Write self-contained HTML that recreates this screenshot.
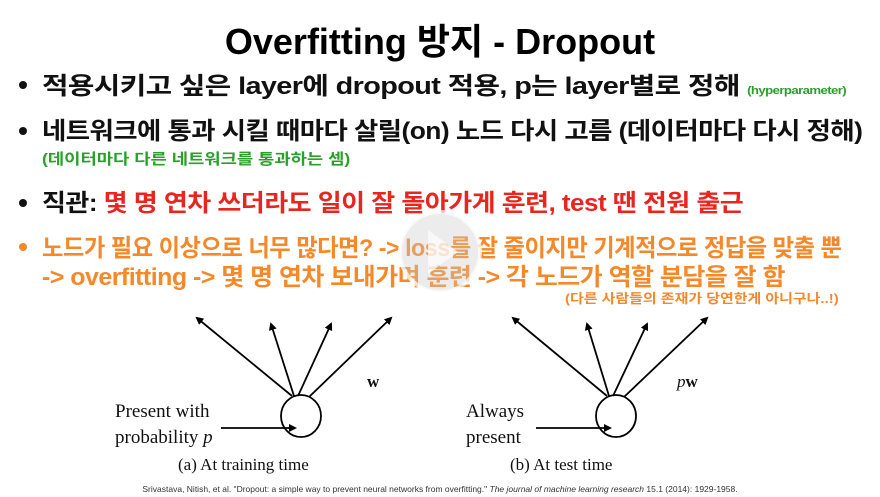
<!DOCTYPE html>
<html><head><meta charset="utf-8"><style>
body{margin:0;width:880px;height:497px;background:#fff;position:relative;overflow:hidden;font-family:"Liberation Sans","Noto Sans CJK KR",sans-serif}
.t{position:absolute;white-space:nowrap;font-weight:bold;transform-origin:0 0}
.b{font-size:24px;color:#111;letter-spacing:-0.5px}
.dot{position:absolute;width:8px;height:8px;border-radius:50%;}
.serif{position:absolute;font-family:"Liberation Serif",serif;font-size:19px;color:#111;white-space:nowrap}
</style></head><body>
<div class="t" style="left:0;width:880px;text-align:center;top:13px;font-size:36px;color:#000">Overfitting 방지 - Dropout</div>

<div class="dot" style="left:19px;top:81px;background:#111"></div>
<div class="t b" style="left:42px;top:66px;transform:scaleX(1.2)">적용시키고 싶은 layer에 dropout 적용, p는 layer별로 정해 <span style="font-size:11px;color:#2aa02a">(hyperparameter)</span></div>

<div class="dot" style="left:19px;top:127px;background:#111"></div>
<div class="t b" style="left:42px;top:111px;transform:scaleX(1.1)">네트워크에 통과 시킬 때마다 살릴(on) 노드 다시 고름 (데이터마다 다시 정해)</div>
<div class="t" style="left:42px;top:148px;font-size:15px;color:#2aa02a;transform:scaleX(1.18)">(데이터마다 다른 네트워크를 통과하는 셈)</div>

<div class="dot" style="left:19px;top:199px;background:#111"></div>
<div class="t b" style="left:42px;top:183px;transform:scaleX(1.085)">직관: <span style="color:#e8251f">몇 명 연차 쓰더라도 일이 잘 돌아가게 훈련, test 땐 전원 출근</span></div>

<div class="dot" style="left:19px;top:243px;background:#f5892a"></div>
<div class="t b" style="left:42px;top:228px;color:#f5892a;transform:scaleX(0.97)">노드가 필요 이상으로 너무 많다면? -&gt; loss를 잘 줄이지만 기계적으로 정답을 맞출 뿐</div>
<div class="t b" style="left:42px;top:257px;color:#f5892a;transform:scaleX(1.04)">-&gt; overfitting -&gt; 몇 명 연차 보내가며 훈련 -&gt; 각 노드가 역할 분담을 잘 함</div>
<div class="t" style="left:565px;top:288px;font-size:13px;color:#f5892a;transform:scaleX(1.15)">(다른 사람들의 존재가 당연한게 아니구나..!)</div>

<svg width="880" height="497" style="position:absolute;left:0;top:0">
<defs><marker id="a" markerWidth="8" markerHeight="8" refX="6" refY="4" orient="auto" markerUnits="userSpaceOnUse"><path d="M0,0 L8,4 L0,8 Z" fill="#000"/></marker></defs>
<g stroke="#000" stroke-width="1.8" fill="none">
<ellipse cx="301" cy="416" rx="20" ry="21"/>
<line x1="292" y1="396" x2="197" y2="318" marker-end="url(#a)"/>
<line x1="294" y1="396" x2="271" y2="324" marker-end="url(#a)"/>
<line x1="298" y1="396" x2="331" y2="324" marker-end="url(#a)"/>
<line x1="309" y1="397" x2="391" y2="318" marker-end="url(#a)"/>
<line x1="221" y1="428" x2="295" y2="428" marker-end="url(#a)"/>
<ellipse cx="616" cy="416" rx="20" ry="21"/>
<line x1="607" y1="396" x2="513" y2="318" marker-end="url(#a)"/>
<line x1="609" y1="396" x2="587" y2="324" marker-end="url(#a)"/>
<line x1="613" y1="396" x2="647" y2="324" marker-end="url(#a)"/>
<line x1="624" y1="397" x2="707" y2="318" marker-end="url(#a)"/>
<line x1="536" y1="428" x2="610" y2="428" marker-end="url(#a)"/>
</g>
<circle cx="440" cy="252" r="40" fill="rgba(200,200,200,0.35)" stroke="rgba(255,255,255,0.7)" stroke-width="4"/>
<path d="M428,230 L458,252 L428,274 Z" fill="rgba(255,255,255,0.7)"/>
</svg>

<div class="serif" style="left:367px;top:372px;font-weight:bold;font-size:17px">w</div>
<div class="serif" style="left:677px;top:372px;font-size:17px"><i>p</i><b>w</b></div>
<div class="serif" style="left:115px;top:401px">Present with</div>
<div class="serif" style="left:115px;top:427px">probability <i>p</i></div>
<div class="serif" style="left:466px;top:401px">Always</div>
<div class="serif" style="left:466px;top:427px">present</div>
<div class="serif" style="left:178px;top:455px;font-size:17px">(a) At training time</div>
<div class="serif" style="left:510px;top:455px;font-size:17px">(b) At test time</div>
<div style="position:absolute;left:0;width:880px;text-align:center;top:484px;font-size:8.5px;color:#333;white-space:nowrap">Srivastava, Nitish, et al. "Dropout: a simple way to prevent neural networks from overfitting." <i>The journal of machine learning research</i> 15.1 (2014): 1929-1958.</div>
</body></html>
